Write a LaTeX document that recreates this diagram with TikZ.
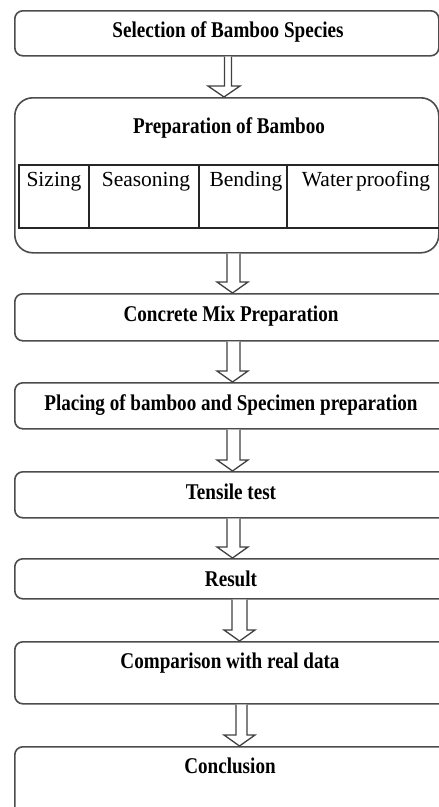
\documentclass[tikz,border=0pt]{standalone}
\usepackage{fontspec}
\setmainfont{Liberation Serif}
\newfontfamily\bfc[FakeStretch=0.85]{Liberation Serif Bold}
\usetikzlibrary{calc}
\tikzset{
  box/.style={draw=black!70, line width=1.6pt, rounded corners=8pt, fill=white, inner sep=0pt, anchor=north west, minimum width=#1},
  box/.default=424pt,
  title/.style={font=\bfc\fontsize{22.5}{25}\selectfont, anchor=base, inner sep=0pt},
  cell/.style={font=\fontsize{21.5}{24}\selectfont, anchor=base, inner sep=0pt},
  barrow/.style={draw=black!75, line width=1.3pt, fill=white, line join=miter},
  gridline/.style={draw=black!85, line width=1.3pt},
}
% from, to, shaft centre x, shaft half width, head centre x, head half width
\newcommand\blockarrow[6]{%
  \path[barrow] let \p1=(#1.south), \p2=(#2.north) in
    (#3pt-#4pt,\y1) -- (#3pt-#4pt,\y2+11pt) -- (#5pt-#6pt,\y2+11pt) -- (#5pt,\y2)
    -- (#5pt+#6pt,\y2+11pt) -- (#3pt+#4pt,\y2+11pt) -- (#3pt+#4pt,\y1);
}
\begin{document}
\begin{tikzpicture}[x=1pt,y=-1pt]
\useasboundingbox (0,0) rectangle (439,807);
\clip (0,0) rectangle (439,807);
% boxes
\node[box, minimum height=45pt] (b1) at (14,10) {};
\node[box, minimum height=155pt, rounded corners=18pt] (b2) at (14,97) {};
\node[box=436pt, minimum height=47pt] (b3) at (14,293) {};
\node[box=436pt, minimum height=46pt] (b4) at (14,382) {};
\node[box=436pt, minimum height=46pt] (b5) at (14,471) {};
\node[box=436pt, minimum height=40pt] (b6) at (14,558) {};
\node[box=436pt, minimum height=62pt] (b7) at (14,641) {};
\node[box=436pt, minimum height=80pt] (b8) at (14,746) {};
% table inside preparation box
\draw[gridline] (19,165) rectangle (445,228);
\draw[gridline] (89,165) -- (89,228) (199,165) -- (199,228) (287,165) -- (287,228);
% texts
\node[title] (t1) at (228,37.7) {Selection of Bamboo Species};
\node[title] (t2) at (229,133) {Preparation of Bamboo};
\node[cell] (c1) at (54,186.7) {Sizing};
\node[cell] (c2) at (146,186.7) {Seasoning};
\node[cell] (c3) at (246,186.7) {Bending};
\node[cell] (c4) at (366,186.7) {Water\hspace{-2pt} proofing};
\node[title] (t3) at (231,321.7) {Concrete Mix Preparation};
\node[title] (t4) at (231,410) {Placing of bamboo and Specimen preparation};
\node[title] (t5) at (231,499) {Tensile test};
\node[title] (t6) at (231,586) {Result};
\node[title] (t7) at (230,668) {Comparison with real data};
\node[title] (t8) at (230,773) {Conclusion};
% arrows
\blockarrow{b1}{b2}{228}{3.5}{224}{16}
\blockarrow{b2}{b3}{233.5}{6.5}{232.5}{15.5}
\blockarrow{b3}{b4}{233.5}{6.5}{232.5}{15.5}
\blockarrow{b4}{b5}{233.5}{6.5}{232.5}{15.5}
\blockarrow{b5}{b6}{233.5}{6.5}{232.5}{15.5}
\blockarrow{b6}{b7}{239.5}{7.5}{239.5}{15.5}
\blockarrow{b7}{b8}{241.5}{5.5}{239.5}{15.5}
\end{tikzpicture}
\end{document}
